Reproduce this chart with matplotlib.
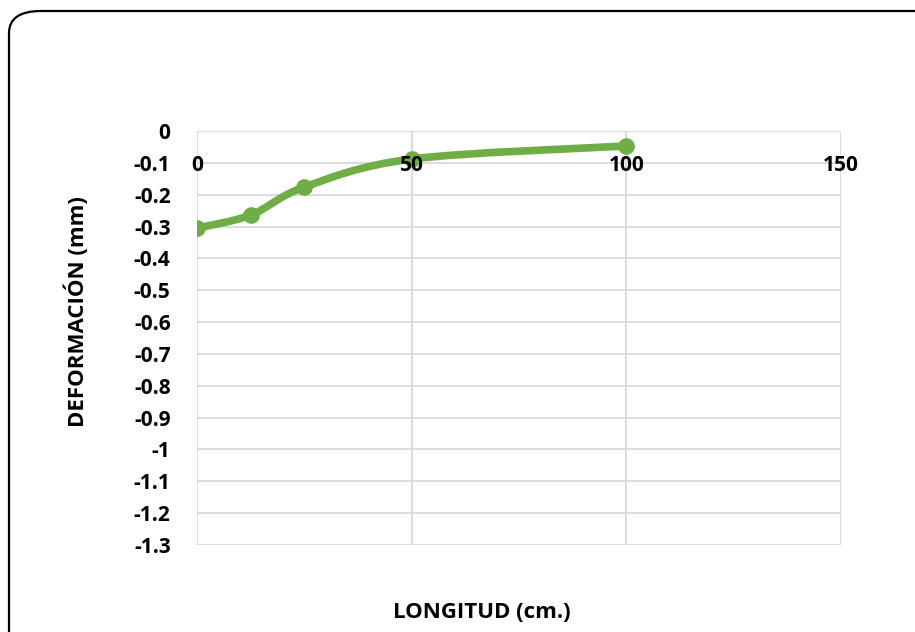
import matplotlib.pyplot as plt
import numpy as np
from matplotlib.path import Path
from matplotlib.patches import PathPatch, FancyBboxPatch

plt.rcParams['font.family'] = ['Open Sans', 'DejaVu Sans']
plt.rcParams['font.weight'] = 'bold'

# longitud (cm) y deformación (mm)
longitud = [0, 12.5, 25, 50, 100]
deformacion = [-0.305, -0.264, -0.176, -0.088, -0.047]
x_ticks = [0, 50, 100, 150]
x_tick_labels = ['0', '50', '100', '150']
y_ticks = [0, -0.1, -0.2, -0.3, -0.4, -0.5, -0.6, -0.7, -0.8, -0.9, -1.0, -1.1, -1.2, -1.3]
y_tick_labels = ['0', '-0.1', '-0.2', '-0.3', '-0.4', '-0.5', '-0.6', '-0.7', '-0.8', '-0.9',
                 '-1', '-1.1', '-1.2', '-1.3']

verde = '#70AD47'
gris = '#D9D9D9'

fig = plt.figure(figsize=(9.15, 6.32), dpi=100)
ax = fig.add_axes([197 / 915, 1 - 545 / 632, (841 - 197) / 915, (545 - 131) / 632])

# curva suavizada (Catmull-Rom -> Bezier cúbica) entre los puntos
xs = np.array(longitud, dtype=float)
ys = np.array(deformacion, dtype=float)
verts = [(xs[0], ys[0])]
codes = [Path.MOVETO]
n = len(xs)
for i in range(n - 1):
    p0 = (xs[max(i - 1, 0)], ys[max(i - 1, 0)])
    p1 = (xs[i], ys[i])
    p2 = (xs[i + 1], ys[i + 1])
    p3 = (xs[min(i + 2, n - 1)], ys[min(i + 2, n - 1)])
    c1 = (p1[0] + (p2[0] - p0[0]) / 6, p1[1] + (p2[1] - p0[1]) / 6)
    c2 = (p2[0] - (p3[0] - p1[0]) / 6, p2[1] - (p3[1] - p1[1]) / 6)
    verts += [c1, c2, p2]
    codes += [Path.CURVE4] * 3
ax.add_patch(PathPatch(Path(verts, codes), facecolor='none', edgecolor=verde,
                       lw=5.5, capstyle='round', joinstyle='round', zorder=3))
ax.plot(longitud, deformacion, 'o', color=verde, markersize=11, zorder=4)

ax.set_xlim(0, 150)
ax.set_ylim(-1.3, 0)
ax.set_xticks(x_ticks)
ax.set_yticks(y_ticks)
ax.set_yticklabels(y_tick_labels)
ax.tick_params(axis='x', length=0, labelbottom=False)
ax.tick_params(axis='y', length=0, pad=19, labelsize=15)
ax.grid(True, color=gris, lw=1.3)
ax.set_axisbelow(True)
for s in ax.spines.values():
    s.set_visible(False)

# etiquetas del eje x junto a la línea del cero, por encima de la curva
for xt, lab in zip(x_ticks, x_tick_labels):
    ax.annotate(lab, (xt, 1), xycoords=ax.get_xaxis_transform(), xytext=(0, -25),
                textcoords='offset points', ha='center', va='center', fontsize=15,
                fontweight='bold', zorder=5, annotation_clip=False)

fig.text(77 / 915, 1 - 312 / 632, 'DEFORMACIÓN (mm)', rotation=90, ha='center',
         va='center', fontsize=16, fontweight='bold')
fig.text(482 / 915, 1 - 612 / 632, 'LONGITUD (cm.)', ha='center', va='center',
         fontsize=16, fontweight='bold')

# marco redondeado del gráfico
marco = FancyBboxPatch((9 / 915, -40 / 632), 950 / 915, 661 / 632,
                       boxstyle='round,pad=0,rounding_size=0.035', transform=fig.transFigure,
                       facecolor='none', edgecolor='black', lw=1.6, clip_on=True)
fig.patches.append(marco)

fig.savefig('out.png', dpi=100)
